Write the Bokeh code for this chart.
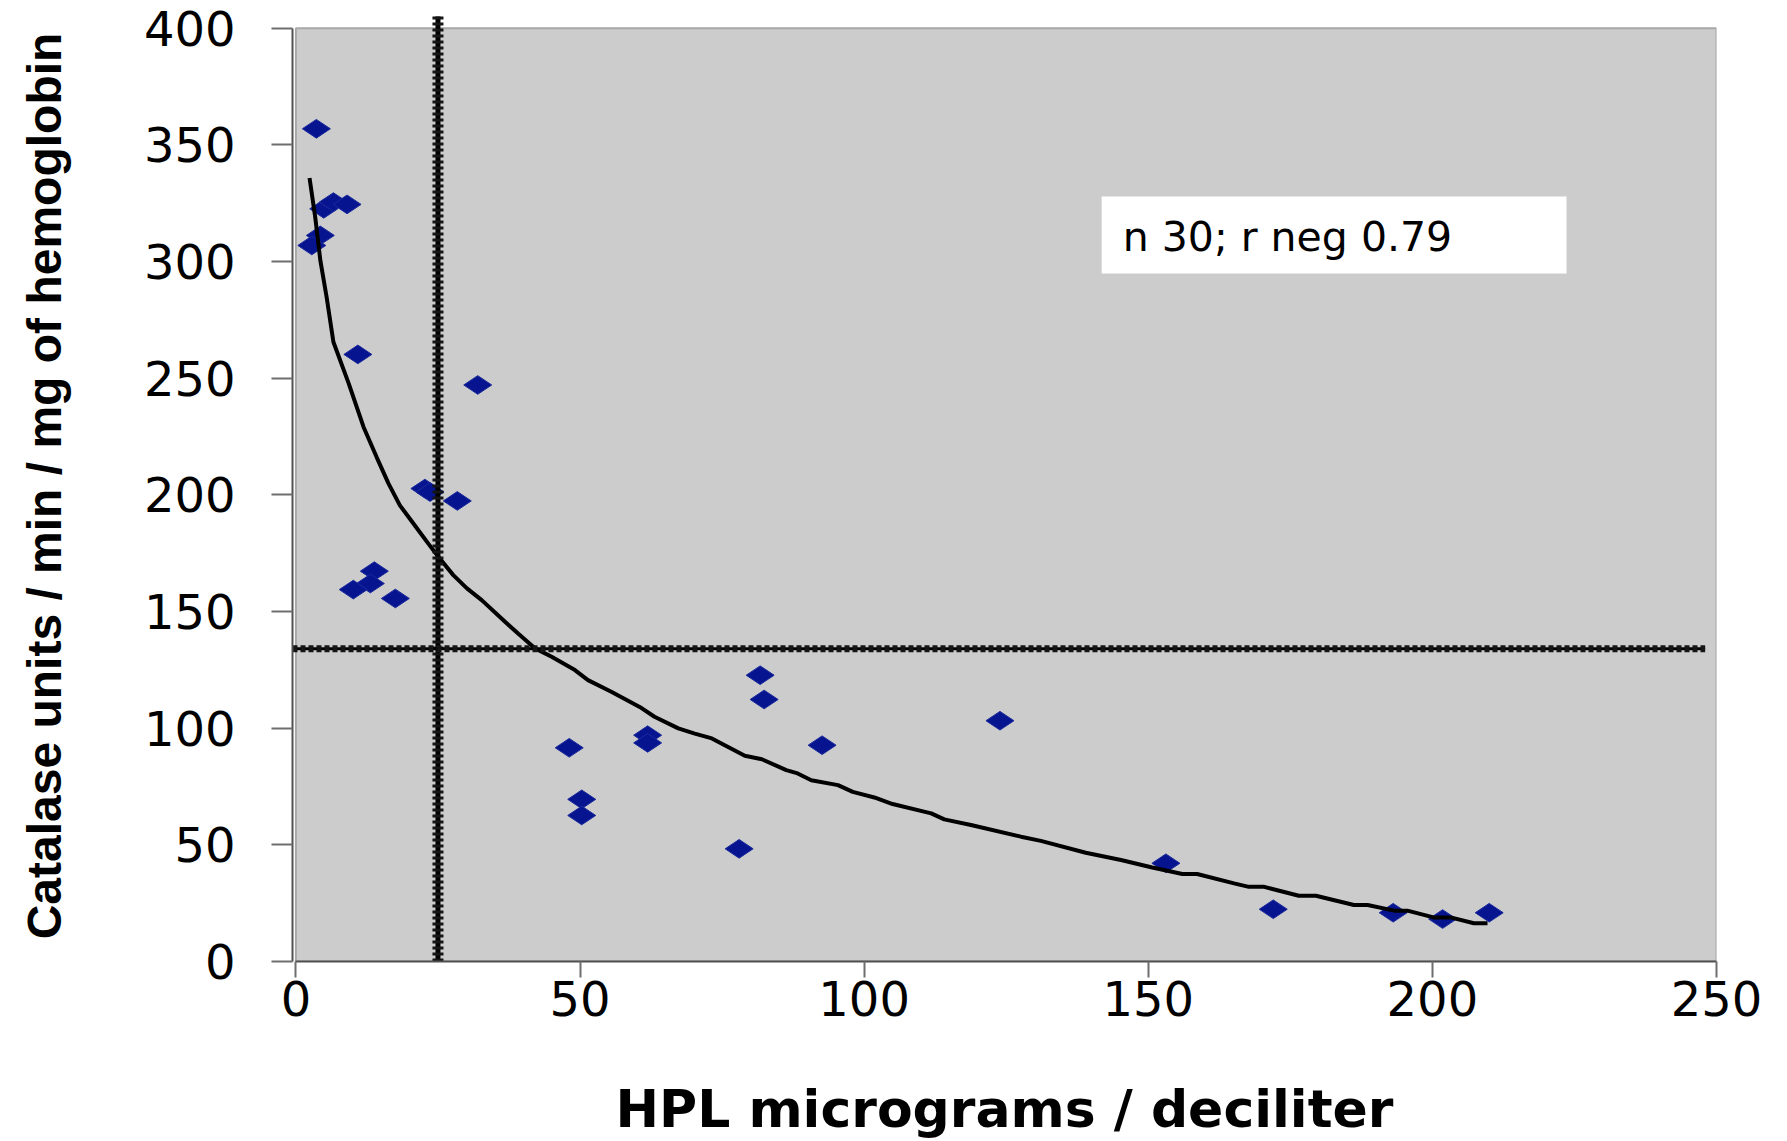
from bokeh.plotting import figure
from bokeh.models import Range1d, FixedTicker, BoxAnnotation, Label
from bokeh.embed import file_html
from bokeh.resources import INLINE

# ---- data ----
hpl = [3.6, 4.9, 6.6, 9.0, 4.3, 2.8, 10.9, 32.0, 22.7, 23.6,
       28.4, 13.8, 13.1, 10.1, 17.5, 48.1, 50.3, 50.3, 61.9, 61.9,
       81.7, 82.4, 123.9, 92.6, 78.0, 153.1, 172.0, 193.1, 201.8, 210.0]
catalase = [356.9, 322.6, 325.5, 324.5, 311.2, 306.9, 260.2, 247.1, 202.7, 201.2,
            197.4, 167.3, 162.0, 159.4, 155.6, 91.6, 69.5, 62.6, 97.0, 93.7,
            122.7, 112.3, 103.2, 92.7, 48.3, 42.1, 22.4, 20.9, 18.2, 20.9]

trend_x = [2.4, 3.4, 4.3, 5.4, 6.6, 9.3, 11.9, 14.2, 16.3, 18.3, 20.9, 23.3, 25.1,
           27.7, 30.1, 32.7, 36.8, 39.1, 42.1, 45.0, 49.1, 51.4, 55.5, 60.5, 63.1,
           67.3, 70.2, 73.2, 79.0, 82.0, 86.3, 88.3, 90.7, 95.4, 98.0, 101.8, 105.0,
           111.8, 114.1, 118.8, 127.6, 131.1, 139.0, 145.2, 150.7, 156.0, 158.6,
           165.1, 167.7, 170.4, 176.5, 179.5, 186.2, 188.6, 193.3, 195.6, 200.2,
           203.2, 207.3, 209.7]
trend_y = [335.8, 319.0, 300.5, 284.8, 265.5, 247.7, 229.1, 216.2, 204.8, 195.5, 187.0,
           179.1, 173.4, 165.6, 159.9, 154.9, 145.6, 140.6, 134.2, 130.6, 124.9, 120.6,
           115.6, 109.1, 104.9, 99.9, 97.7, 95.6, 88.2, 86.7, 82.0, 80.6, 77.7, 75.6,
           72.7, 70.3, 67.5, 63.5, 60.9, 58.5, 53.5, 51.7, 46.6, 43.5, 40.3, 37.5,
           37.5, 33.5, 32.0, 32.0, 28.2, 28.2, 24.2, 24.2, 21.8, 21.8, 18.9, 18.9,
           16.4, 16.4]

ref_hpl_x = [25, 25]
ref_hpl_y = [0, 405]
ref_cat_x = [-0.6, 248]
ref_cat_y = [134, 134]

x_ticks = [0, 50, 100, 150, 200, 250]
y_ticks = [0, 50, 100, 150, 200, 250, 300, 350, 400]
x_max = 250
y_max = 400
x_title = "HPL micrograms / deciliter"
y_title = "Catalase units / min / mg of hemoglobin"
note_text = "n 30; r neg 0.79"

# ---- figure ----
p = figure(width=1787, height=1141, output_backend="svg", toolbar_location=None,
           x_range=Range1d(-0.6, x_max), y_range=Range1d(0, 407.6),
           min_border_left=292, min_border_right=71,
           min_border_top=10, min_border_bottom=180)
p.background_fill_color = "white"
p.border_fill_color = "white"
p.outline_line_color = None
p.grid.visible = False

# plot area
p.quad(left=[0], right=[x_max], bottom=[0], top=[y_max],
       fill_color="#CCCCCC", line_color="#A8A8A8", line_width=2)

# data points
p.scatter(hpl, catalase, marker="diamond", size=28, angle=1.5708,
          fill_color="#06158F", line_color="#1B2A9C", line_width=1)

# trend line
p.line(trend_x, trend_y, line_color="black", line_width=4)

# reference lines (serrated look)
p.line(ref_hpl_x, ref_hpl_y, line_color="black", line_width=5)
p.line(ref_hpl_x, ref_hpl_y, line_color="#151515", line_width=11, line_dash="3 3")
p.line(ref_cat_x, ref_cat_y, line_color="black", line_width=3)
p.line(ref_cat_x, ref_cat_y, line_color="#151515", line_width=7, line_dash="5 3")

# annotation box
p.add_layout(BoxAnnotation(left=141.8, right=223.6, bottom=294.9, top=327.9,
                           fill_color="white", fill_alpha=1.0, line_color=None))
p.add_layout(Label(x=145.5, y=310.6, text=note_text, text_font="DejaVu Sans",
                   text_font_size="41px", text_baseline="alphabetic",
                   text_color="black"))

# axes
xa = p.xaxis[0]
ya = p.yaxis[0]
xa.ticker = FixedTicker(ticks=x_ticks)
ya.ticker = FixedTicker(ticks=y_ticks)
xa.bounds = (0, x_max)
ya.bounds = (0, y_max)
for ax in (xa, ya):
    ax.axis_line_color = "#505050"
    ax.axis_line_width = 2
    ax.major_tick_line_color = "#6E6E6E"
    ax.major_tick_line_width = 2
    ax.major_tick_in = 0
    ax.minor_tick_line_color = None
    ax.major_label_text_font = "DejaVu Sans"
    ax.major_label_text_font_size = "48px"
    ax.major_label_text_color = "black"
    ax.axis_label_text_color = "black"
    ax.axis_label_text_font_style = "bold"
xa.major_tick_out = 16
ya.major_tick_out = 21
xa.major_label_standoff = 3
ya.major_label_standoff = 36

xa.axis_label = x_title
xa.axis_label_text_font = "DejaVu Sans"
xa.axis_label_text_font_size = "52px"
xa.axis_label_standoff = 60

ya.axis_label = y_title
ya.axis_label_text_font = "Liberation Sans"
ya.axis_label_text_font_size = "48px"
ya.axis_label_standoff = 70

open("out.html", "w").write(file_html(p, INLINE))
